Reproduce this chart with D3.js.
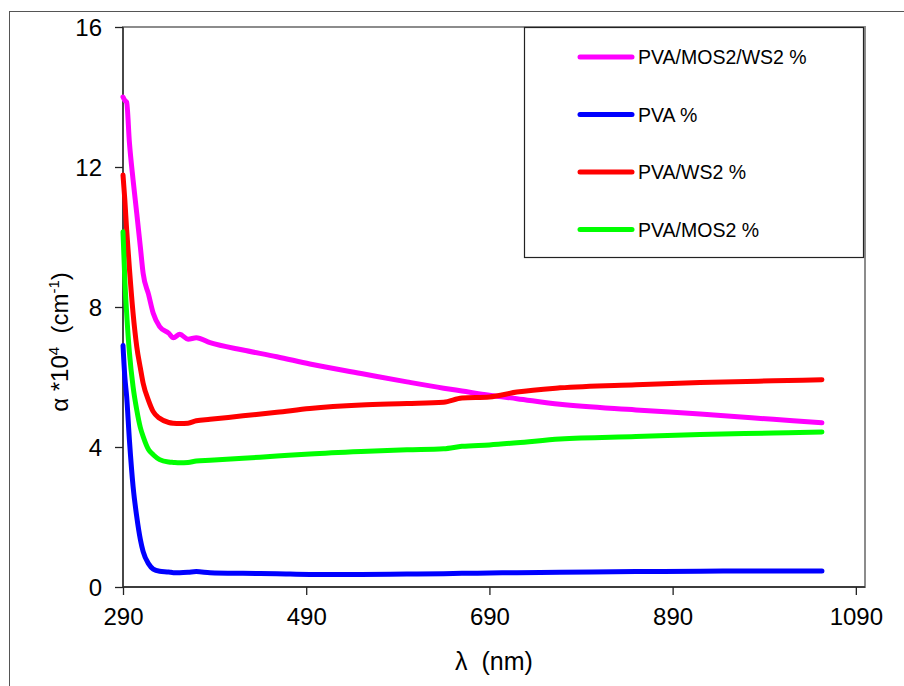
<!DOCTYPE html>
<meta charset="utf-8">
<style>
body { margin: 0; background: #fff; }
text { font-family: "Liberation Sans", Arial, sans-serif; fill: #000; white-space: pre; }
</style>
<body>
<script src="https://d3js.org/d3.v7.min.js"></script>
<script>

// wavelength (nm) shared by all series
var lambda = [290, 292, 294, 297, 301, 305, 309, 312, 318, 323, 330, 340, 345, 352, 361, 370, 385, 421, 458, 494, 550, 600, 640, 660, 690, 720, 767, 850, 920, 1000, 1053]

// alpha * 10^4 (cm^-1)
var pvaMosWs = [14.0, 13.9, 13.85, 12.7, 11.63, 10.68, 9.7, 8.96, 8.35, 7.82, 7.44, 7.25, 7.12, 7.22, 7.08, 7.12, 6.98, 6.77, 6.58, 6.37, 6.1, 5.86, 5.68, 5.6, 5.48, 5.38, 5.22, 5.06, 4.94, 4.79, 4.69]
var pva = [6.9, 6.0, 5.44, 4.2, 2.87, 2.01, 1.35, 1.01, 0.66, 0.51, 0.45, 0.43, 0.41, 0.41, 0.42, 0.44, 0.41, 0.39, 0.38, 0.36, 0.36, 0.37, 0.38, 0.39, 0.4, 0.41, 0.42, 0.44, 0.45, 0.46, 0.46]
var pvaWs = [11.77, 11.06, 10.2, 9.1, 7.82, 6.87, 6.25, 5.82, 5.32, 5.01, 4.82, 4.7, 4.68, 4.67, 4.68, 4.75, 4.79, 4.89, 4.99, 5.1, 5.2, 5.24, 5.28, 5.4, 5.43, 5.57, 5.69, 5.78, 5.84, 5.89, 5.92]
var pvaMos = [10.15, 8.77, 7.82, 6.7, 5.72, 5.06, 4.55, 4.3, 3.92, 3.78, 3.64, 3.57, 3.56, 3.55, 3.56, 3.6, 3.62, 3.68, 3.74, 3.8, 3.87, 3.92, 3.95, 4.02, 4.06, 4.12, 4.23, 4.3, 4.36, 4.4, 4.43]

var seriesNames = ["PVA/MOS2/WS2 %", "PVA %", "PVA/WS2 %", "PVA/MOS2 %"]
var seriesValues = [pvaMosWs, pva, pvaWs, pvaMos]
var seriesColors = ["#ff00ff", "#0000ff", "#ff0000", "#00ff00"]

var xTicks = [290, 490, 690, 890, 1090]
var yTicks = [0, 4, 8, 12, 16]

var width = 904
var height = 686

var svg = d3.select("body").append("svg")
    .attr("width", width)
    .attr("height", height)

// outer chart frame
svg.append("rect")
    .attr("x", 9.5)
    .attr("y", 11.5)
    .attr("width", 920)
    .attr("height", 700)
    .attr("fill", "#fff")
    .attr("stroke", "#555")
    .attr("stroke-width", 1)

var plot = {left: 123, right: 865, top: 27, bottom: 587}

var x = d3.scaleLinear()
    .domain([290, 1100])
    .range([plot.left, plot.right])

var y = d3.scaleLinear()
    .domain([0, 16])
    .range([plot.bottom, plot.top])

// plot area border
svg.append("rect")
    .attr("x", plot.left)
    .attr("y", plot.top)
    .attr("width", plot.right - plot.left)
    .attr("height", plot.bottom - plot.top)
    .attr("fill", "none")
    .attr("stroke", "#8c8c8c")
    .attr("stroke-width", 2)

// axes
var xAxis = d3.axisBottom(x).tickValues(xTicks).tickSize(8).tickFormat(d3.format("d"))
var yAxis = d3.axisLeft(y).tickValues(yTicks).tickSize(8)

var xa = svg.append("g")
    .attr("transform", "translate(0," + plot.bottom + ")")
    .call(xAxis)
xa.select(".domain").attr("d", "M" + x(290) + ",0H" + plot.right)

var ya = svg.append("g")
    .attr("transform", "translate(" + plot.left + ",0)")
    .call(yAxis)
ya.select(".domain").attr("d", "M0," + plot.top + "V" + plot.bottom)

svg.selectAll(".domain").attr("stroke", "#222").attr("stroke-width", 1.3)
svg.selectAll(".tick line").attr("stroke", "#222").attr("stroke-width", 1.3)
svg.selectAll(".tick text")
    .style("font-family", "'Liberation Sans', Arial, sans-serif")
    .style("font-size", "24px")
    .attr("fill", "#000")
xa.selectAll(".tick text").attr("y", 21).attr("dy", "0.71em")
ya.selectAll(".tick text").attr("x", -21).attr("dy", "0.35em")

// axis titles
svg.append("text")
    .attr("x", (plot.left + plot.right) / 2)
    .attr("y", 670)
    .attr("text-anchor", "middle")
    .style("font-size", "25px")
    .text("λ  (nm)")

var yt = svg.append("text")
    .attr("transform", "translate(68,342) rotate(-90)")
    .attr("text-anchor", "middle")
    .style("font-size", "24px")
yt.append("tspan").text("α *10")
yt.append("tspan").attr("dy", -9).style("font-size", "15px").text("4")
yt.append("tspan").attr("dy", 9).text("  (cm")
yt.append("tspan").attr("dy", -9).style("font-size", "15px").text("-1")
yt.append("tspan").attr("dy", 9).text(")")

// curves
var line = d3.line()
    .x(function(d) { return x(d[0]) })
    .y(function(d) { return y(d[1]) })
    .curve(d3.curveMonotoneX)

seriesValues.forEach(function(vals, i) {
  svg.append("path")
      .datum(lambda.map(function(l, j) { return [l, vals[j]] }))
      .attr("d", line)
      .attr("fill", "none")
      .attr("stroke", seriesColors[i])
      .attr("stroke-width", 5)
      .attr("stroke-linecap", "round")
      .attr("stroke-linejoin", "round")
})

// legend
var legend = svg.append("g")
legend.append("rect")
    .attr("x", 524.5)
    .attr("y", 27.5)
    .attr("width", 339)
    .attr("height", 230)
    .attr("fill", "#fff")
    .attr("stroke", "#222")
    .attr("stroke-width", 1.2)

seriesNames.forEach(function(name, i) {
  var ly = 57 + i * 57.5
  legend.append("line")
      .attr("x1", 580)
      .attr("x2", 632)
      .attr("y1", ly)
      .attr("y2", ly)
      .attr("stroke", seriesColors[i])
      .attr("stroke-width", 5)
      .attr("stroke-linecap", "round")
  legend.append("text")
      .attr("x", 638)
      .attr("y", ly + 7)
      .style("font-size", "19.5px")
      .text(name)
})

</script>
